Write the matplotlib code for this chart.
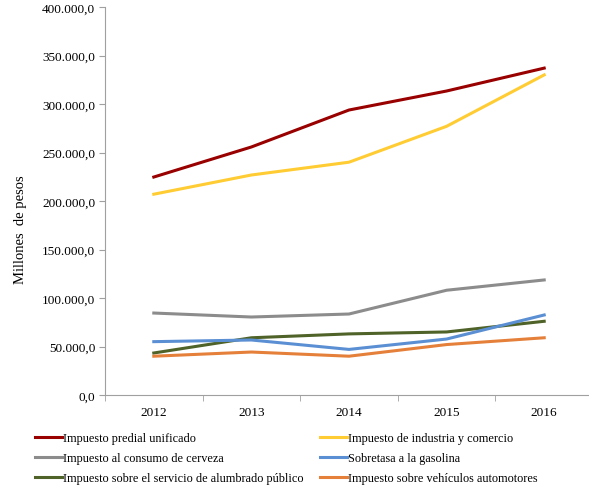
import numpy as np
import matplotlib.pyplot as plt
from matplotlib.ticker import FuncFormatter

plt.rcParams['font.family'] = ['Liberation Serif', 'DejaVu Serif']
plt.rcParams['font.size'] = 9.5

years = ['2012', '2013', '2014', '2015', '2016']
predial = [224700, 255700, 293800, 313400, 337000]
industria = [207000, 226800, 240000, 277000, 330000]
cerveza = [84500, 80400, 83500, 108000, 118600]
gasolina = [55000, 56700, 47000, 57700, 82500]
alumbrado = [43300, 59000, 63000, 65000, 76000]
vehiculos = [40000, 44300, 40000, 52000, 59000]

series = [
    ('Impuesto predial unificado', predial, '#990000'),
    ('Impuesto al consumo de cerveza', cerveza, '#8c8c8c'),
    ('Impuesto sobre el servicio de alumbrado público', alumbrado, '#4f6228'),
    ('Impuesto de industria y comercio', industria, '#ffcc33'),
    ('Sobretasa a la gasolina', gasolina, '#5b8fd3'),
    ('Impuesto sobre vehículos automotores', vehiculos, '#e5803a'),
]

fig = plt.figure(figsize=(5.89, 4.89), dpi=100)
ax = fig.add_axes([105/589, 1-396/489, 488/589, 388/489])

x = np.arange(len(years))
handles = []
for name, vals, col in series:
    h, = ax.plot(x, vals, color=col, lw=2.2, label=name)
    handles.append(h)

ax.set_ylim(0, 400000)
ax.set_xlim(-0.5, 4.5)
ax.set_yticks(np.arange(0, 400001, 50000))
ax.yaxis.set_major_formatter(FuncFormatter(
    lambda v, p: '{:,.1f}'.format(v).replace(',', 'X').replace('.', ',').replace('X', '.')))
ax.set_xticks(x)
ax.set_xticklabels(years)
ax.set_xticks(np.arange(-0.5, 5, 1), minor=True)
ax.tick_params(axis='x', which='major', length=0, pad=8)
ax.tick_params(axis='x', which='minor', length=4, color='#a0a0a0')
ax.tick_params(axis='y', length=4, color='#a0a0a0', pad=3)
for s in ['top', 'right']:
    ax.spines[s].set_visible(False)
for s in ['left', 'bottom']:
    ax.spines[s].set_color('#a0a0a0')
ax.set_ylabel('Millones  de pesos', fontsize=10.5)
ax.yaxis.set_label_coords(-0.16, 0.428)

fig.legend(handles=handles, loc='upper left', bbox_to_anchor=(30/589, 1-428/489),
           ncol=2, frameon=False, handlelength=2.2, handletextpad=0.08,
           columnspacing=1.4, labelspacing=0.65, fontsize=8.8, borderaxespad=0)

plt.savefig('out.png')
